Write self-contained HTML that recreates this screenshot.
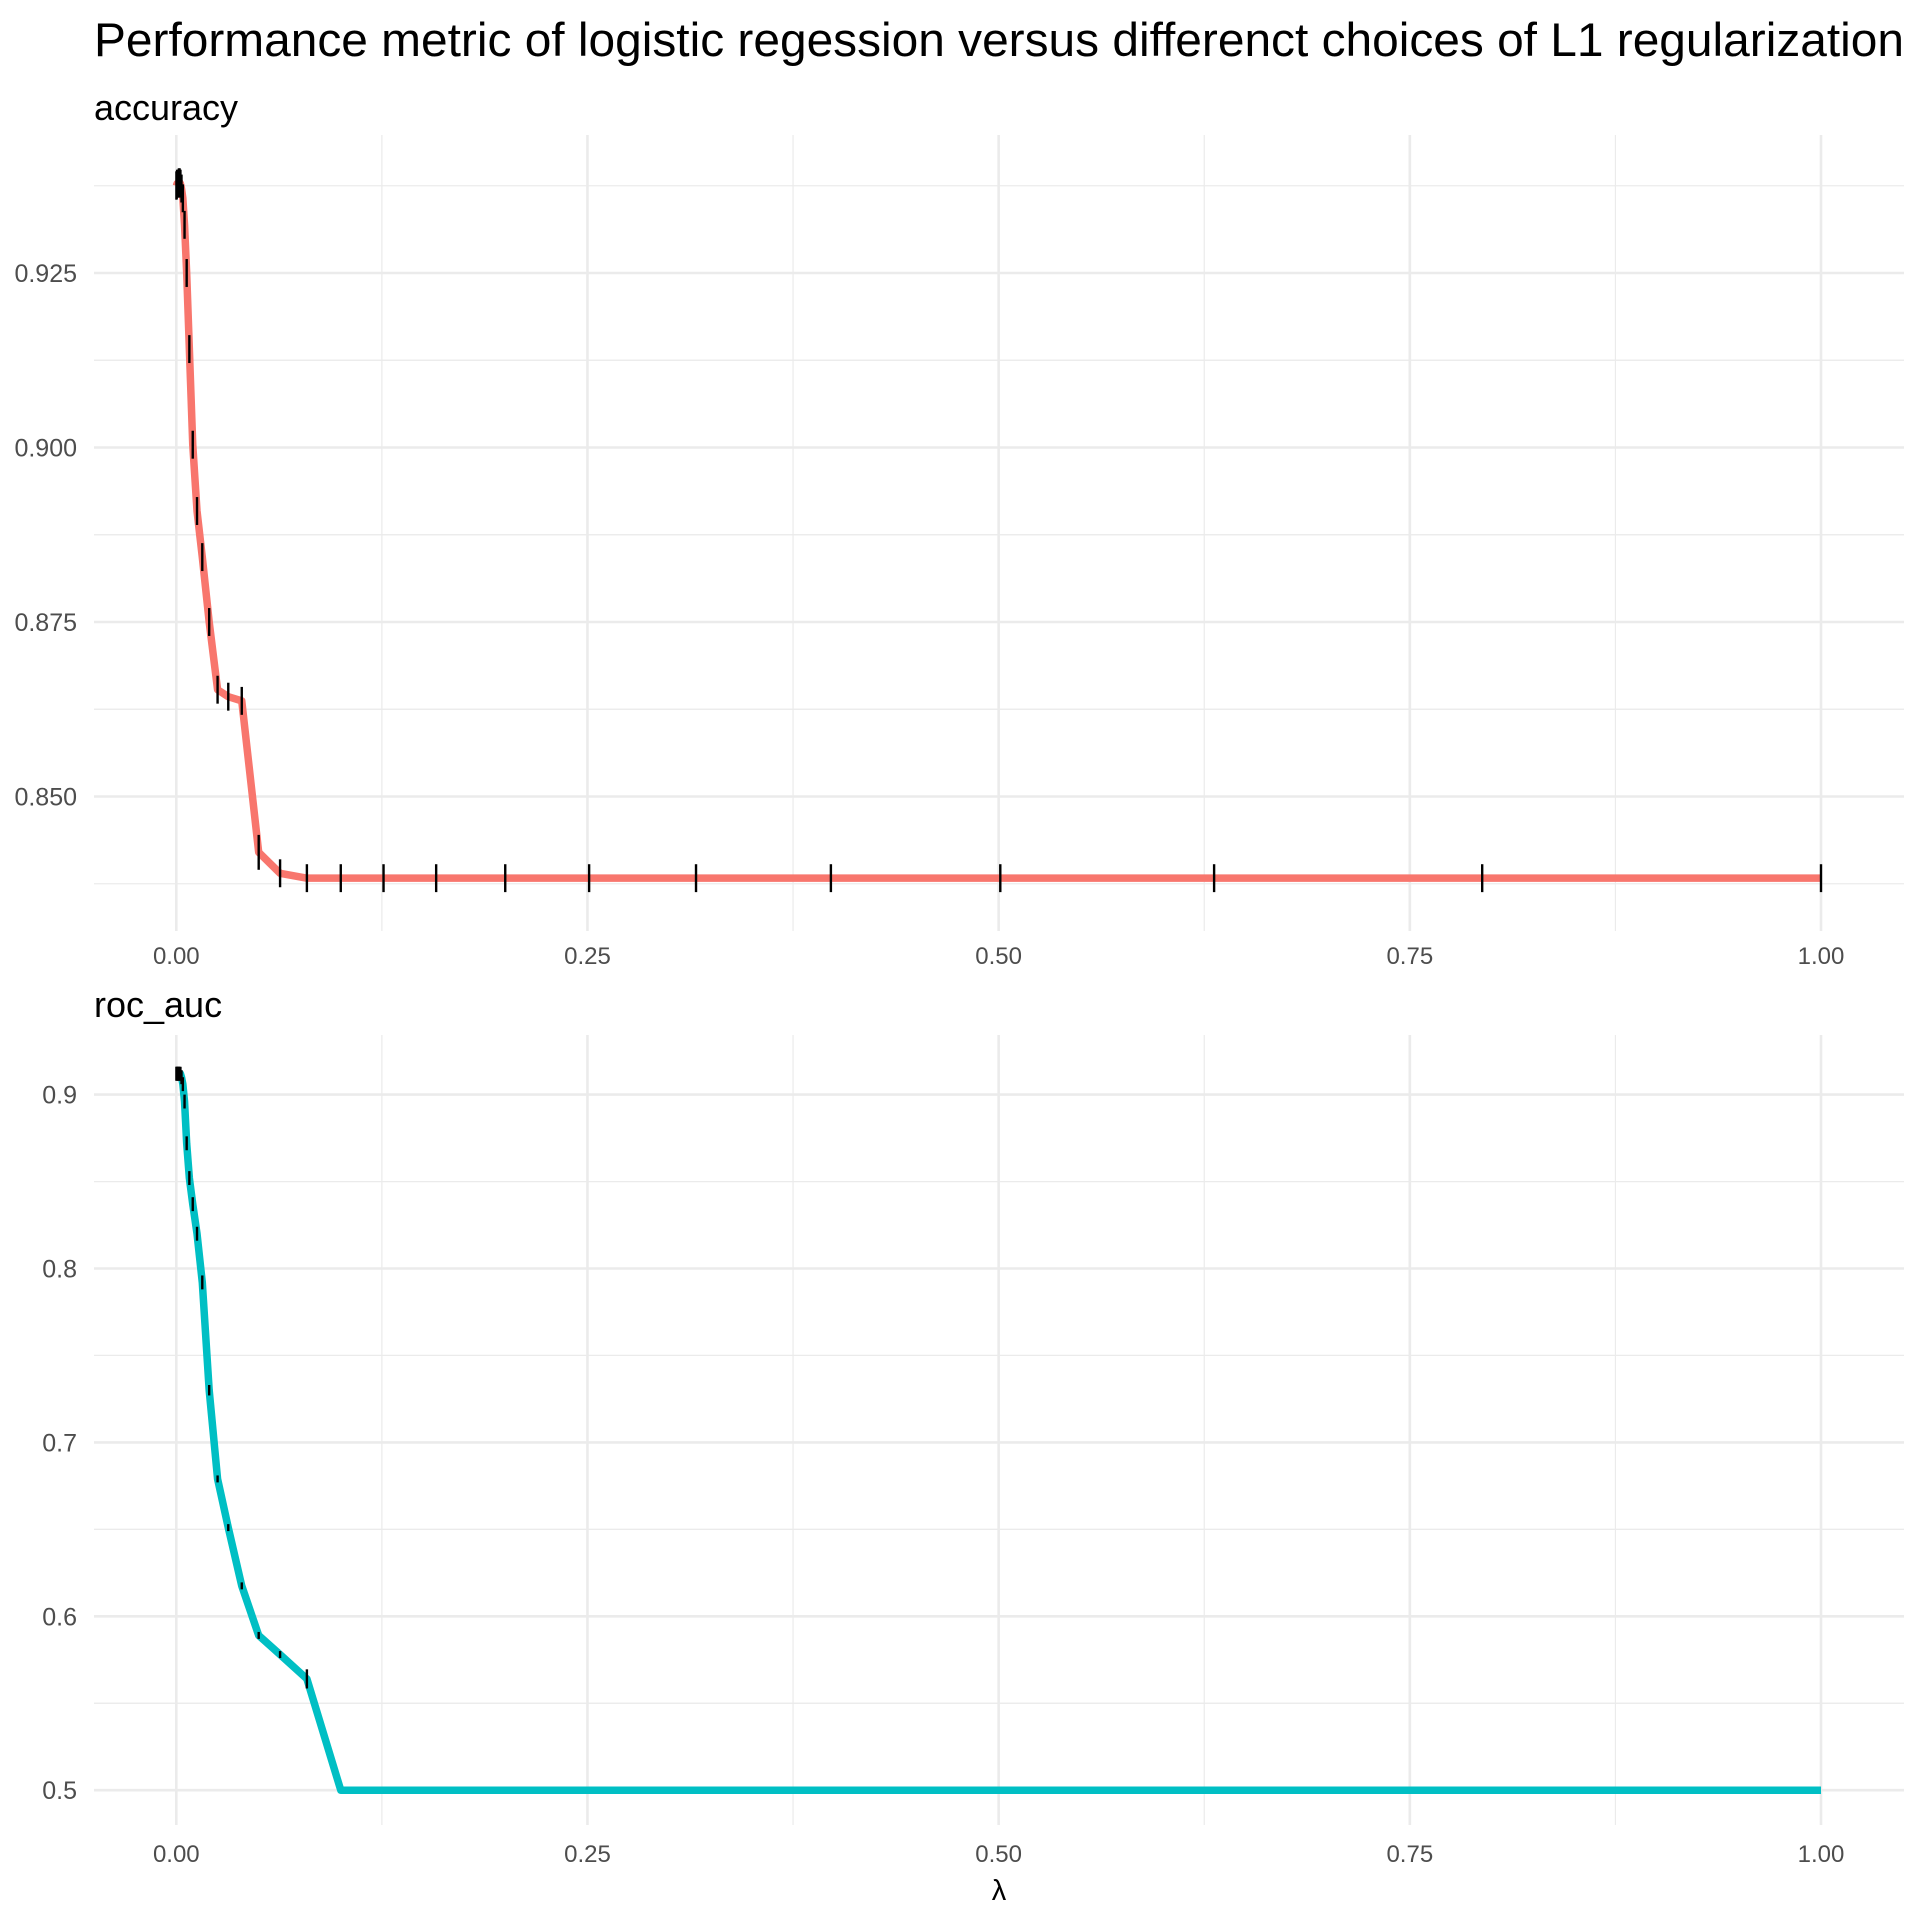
<!DOCTYPE html>
<html><head><meta charset="utf-8"><style>
html,body{margin:0;padding:0;background:#fff;}
svg{display:block;font-family:"Liberation Sans",sans-serif;}
</style></head><body>
<svg id="chart" width="1920" height="1920" viewBox="0 0 1920 1920" xmlns="http://www.w3.org/2000/svg">
<text x="94" y="56" font-size="47" textLength="1810" lengthAdjust="spacingAndGlyphs" fill="#000">Performance metric of logistic regession versus differenct choices of L1 regularization</text>
<text x="94" y="120" font-size="36" fill="#000">accuracy</text>
<text x="94" y="1017" font-size="36" fill="#000">roc_auc</text>
<text x="999" y="1900" font-size="29" text-anchor="middle" fill="#000">λ</text>
<g id="p1"></g>
<g id="p2"></g>
</svg>
<script>
const lambdas = [1,0.794,0.631,0.501,0.398,0.316,0.251,0.2,0.158,0.126,0.1,0.0794,0.0631,0.0501,0.0398,0.0316,0.0251,0.02,0.0158,0.0126,0.01,0.00794,0.00631,0.00501,0.00398,0.00316,0.00251,0.002,0.00158,0.00126,0.001,0.0005,0.0002,0.0001];
const accuracy = [0.8383,0.8383,0.8383,0.8383,0.8383,0.8383,0.8383,0.8383,0.8383,0.8383,0.8383,0.8383,0.839,0.842,0.8637,0.8643,0.8653,0.875,0.8843,0.8909,0.9004,0.9141,0.925,0.9319,0.9357,0.9371,0.9378,0.938,0.938,0.9378,0.9378,0.9378,0.9376,0.9375];
const accuracyErr = [0.002,0.002,0.002,0.002,0.002,0.002,0.002,0.002,0.002,0.002,0.002,0.002,0.002,0.0025,0.002,0.002,0.002,0.002,0.002,0.002,0.002,0.002,0.002,0.002,0.002,0.002,0.002,0.002,0.002,0.002,0.002,0.002,0.002,0.002];
const rocAuc = [0.5,0.5,0.5,0.5,0.5,0.5,0.5,0.5,0.5,0.5,0.5,0.564,0.578,0.589,0.6175,0.651,0.679,0.73,0.792,0.82,0.837,0.852,0.872,0.896,0.906,0.91,0.912,0.912,0.912,0.912,0.912,0.912,0.912,0.912];
const rocAucErr = [0,0,0,0,0,0,0,0,0,0,0,0.0055,0.002,0.002,0.002,0.002,0.002,0.003,0.004,0.004,0.004,0.004,0.004,0.004,0.004,0.004,0.004,0.004,0.004,0.004,0.004,0.004,0.004,0.004];
const xTicks = [0,0.25,0.5,0.75,1];
const xTickLabels = ["0.00","0.25","0.50","0.75","1.00"];
const accTicks = [0.85,0.875,0.9,0.925];
const accTickLabels = ["0.850","0.875","0.900","0.925"];
const rocTicks = [0.5,0.6,0.7,0.8,0.9];
const rocTickLabels = ["0.5","0.6","0.7","0.8","0.9"];

const NS="http://www.w3.org/2000/svg";
function mk(tag,attrs,parent){const e=document.createElementNS(NS,tag);for(const k in attrs)e.setAttribute(k,attrs[k]);parent.appendChild(e);return e;}
const xs = v => 176.3 + v*1644.7;
const L=94,R=1904;

function panel(g, top, bottom, ys, yTicks, yLabels, minorStep, vals, errs, color, labelY, pname){
  [0.125,0.375,0.625,0.875].forEach(v=>{
    const l=mk('line',{x1:xs(v),x2:xs(v),y1:top,y2:bottom,stroke:'#ebebeb','stroke-width':1.2},g);
    
    
  });
  yTicks.forEach(v=>{
    [v-minorStep,v+minorStep].forEach(m=>{
      const y=ys(m); if(y<top||y>bottom) return;
      const l=mk('line',{x1:L,x2:R,y1:y,y2:y,stroke:'#ebebeb','stroke-width':1.2},g);
      
      
    });
  });
  xTicks.forEach((v,i)=>{
    const l=mk('line',{x1:xs(v),x2:xs(v),y1:top,y2:bottom,stroke:'#ebebeb','stroke-width':2.6},g);
    
    
    const t=mk('text',{x:xs(v),y:labelY,'font-size':24,'text-anchor':'middle',fill:'#4d4d4d'},g);
    t.textContent=xTickLabels[i];
    
    
  });
  yTicks.forEach((v,i)=>{
    const y=ys(v);
    const l=mk('line',{x1:L,x2:R,y1:y,y2:y,stroke:'#ebebeb','stroke-width':2.6},g);
    
    
    const t=mk('text',{x:77,y:y+9,'font-size':25,'text-anchor':'end',fill:'#4d4d4d'},g);
    t.textContent=yLabels[i];
    
    
  });
  const pts=lambdas.map((l,i)=>xs(l).toFixed(2)+','+ys(vals[i]).toFixed(2)).join(' ');
  const pl=mk('polyline',{points:pts,fill:'none',stroke:color,'stroke-width':7.5,'stroke-linejoin':'round'},g);
  
  
  lambdas.forEach((l,i)=>{
    if(!errs[i]) return;
    const e=mk('line',{x1:xs(l),x2:xs(l),y1:ys(vals[i]-errs[i]),y2:ys(vals[i]+errs[i]),stroke:'#000','stroke-width':2.4},g);
    
    
  });
}
const ysAcc = v => 273 + (0.925 - v)/0.025*174.5;
const ysRoc = v => 1790.2 - (v - 0.5)/0.1*173.9;
panel(document.getElementById('p1'),135,931,ysAcc,accTicks,accTickLabels,0.0125,accuracy,accuracyErr,'#F8766D',964,'accuracy');
panel(document.getElementById('p2'),1035,1825,ysRoc,rocTicks,rocTickLabels,0.05,rocAuc,rocAucErr,'#00BFC4',1862,'roc-auc');
</script>
</body></html>
